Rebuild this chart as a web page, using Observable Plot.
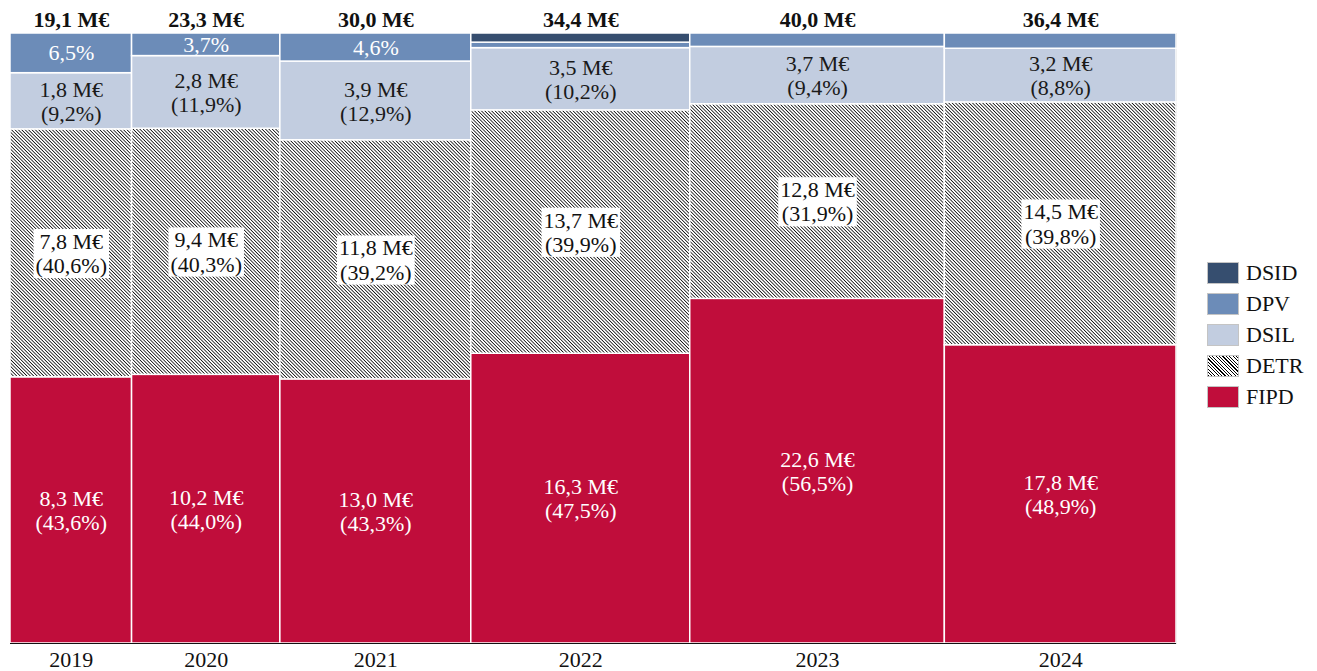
<!DOCTYPE html>
<html><head><meta charset="utf-8">
<script src="https://cdn.jsdelivr.net/npm/d3@7"></script>
<script src="https://cdn.jsdelivr.net/npm/@observablehq/plot@0.6"></script>
<style>
body{margin:0;background:#fff;font-family:"Liberation Serif",serif;}
#wrap{position:relative;width:1317px;height:671px;}
#legend{position:absolute;left:1207px;top:257px;font-size:22px;color:#111;}
.row{display:flex;align-items:center;height:31px;}
.sw{width:30px;height:20px;border:1px solid #c4c4c4;margin-right:7px;box-sizing:content-box;}
</style></head><body><div id="wrap"></div>
<script>
const years = [2019, 2020, 2021, 2022, 2023, 2024];
const totals = [19.1, 23.3, 30.0, 34.4, 40.0, 36.4];
const fipdAmt = [8.3, 10.2, 13.0, 16.3, 22.6, 17.8];
const fipdPct = [43.6, 44.0, 43.3, 47.5, 56.5, 48.9];
const detrAmt = [7.8, 9.4, 11.8, 13.7, 12.8, 14.5];
const detrPct = [40.6, 40.3, 39.2, 39.9, 31.9, 39.8];
const dsilAmt = [1.8, 2.8, 3.9, 3.5, 3.7, 3.2];
const dsilPct = [9.2, 11.9, 12.9, 10.2, 9.4, 8.8];
const dpvPct = [6.5, 3.7, 4.6, 0.9, 2.2, 2.5];
const dsidPct = [0, 0, 0, 1.5, 0, 0];
const dpvLabelShown = [true, true, true, false, false, false];
const seriesNames = ["FIPD", "DETR", "DSIL", "DPV", "DSID"];
const seriesColors = {FIPD: "#c00d3b", DETR: "url(#hatch)", DSIL: "#c2cde0", DPV: "#6c8cb8", DSID: "#364e6f"};
const legendOrder = ["DSID", "DPV", "DSIL", "DETR", "FIPD"];

const fmt = v => v.toFixed(1).replace(".", ",");

const rows = [];
const cols = [];
let cx = 0;
years.forEach((yr, i) => {
  const x1 = cx, x2 = cx + totals[i];
  cx = x2;
  cols.push({year: yr, x1, x2, mid: (x1 + x2) / 2, total: totals[i]});
  const pcts = [fipdPct[i], detrPct[i], dsilPct[i], dpvPct[i], dsidPct[i]];
  const sum = d3.sum(pcts);
  let cy = 0;
  pcts.forEach((p, k) => {
    if (p <= 0) return;
    const y1 = cy, y2 = cy + p / sum * 100;
    cy = y2;
    const name = seriesNames[k];
    let label = null;
    if (name === "FIPD") label = `${fmt(fipdAmt[i])} M€\n(${fmt(fipdPct[i])}%)`;
    if (name === "DETR") label = `${fmt(detrAmt[i])} M€\n(${fmt(detrPct[i])}%)`;
    if (name === "DSIL") label = `${fmt(dsilAmt[i])} M€\n(${fmt(dsilPct[i])}%)`;
    if (name === "DPV" && dpvLabelShown[i]) label = `${fmt(dpvPct[i])}%`;
    rows.push({year: yr, series: name, x1, x2, xm: (x1 + x2) / 2, y1, y2, ym: (y1 + y2) / 2, label, color: seriesColors[name]});
  });
});

const font = '"Palatino Linotype","Book Antiqua",Palatino,"Liberation Serif",serif';
const detrRows = rows.filter(d => d.series === "DETR");
const detrLabelSet = new Set(detrRows.map(d => d.label.replace("\n", "")));

const plot = Plot.plot({
  width: 1317,
  height: 671,
  marginLeft: 10,
  marginRight: 141,
  marginTop: 33,
  marginBottom: 28,
  x: {domain: [0, d3.sum(totals)], axis: null},
  y: {domain: [0, 100], axis: null},
  color: {type: "identity"},
  style: {fontFamily: font, fontSize: "22px", background: "white", overflow: "visible"},
  marks: [
    Plot.frame({stroke: "#c0c0c0"}),
    Plot.rect(rows, {x1: "x1", x2: "x2", y1: "y1", y2: "y2", fill: "color", stroke: "white", strokeWidth: 1.5}),
    Plot.ruleY([0], {stroke: "#111", strokeWidth: 1.2}),
    Plot.text(rows.filter(d => d.series === "FIPD"), {x: "xm", y: "ym", text: "label", fill: "white", lineHeight: 1.1}),
    Plot.text(detrRows, {x: "xm", y: "ym", text: "label", fill: "#111", lineHeight: 1.1}),
    Plot.text(rows.filter(d => d.series === "DSIL"), {x: "xm", y: "ym", text: "label", fill: "#1a1a1a", lineHeight: 1.1}),
    Plot.text(rows.filter(d => d.series === "DPV" && d.label), {x: "xm", y: "ym", text: "label", fill: "white"}),
    Plot.text(cols, {x: "mid", y: 100, dy: -14, text: d => `${fmt(d.total)} M€`, fontWeight: "bold", fill: "#111"}),
    Plot.text(cols, {x: "mid", y: 0, dy: 16, text: d => String(d.year), fill: "#111"})
  ]
});

d3.select(plot).insert("defs", ":first-child").html(
  '<pattern id="hatch" patternUnits="userSpaceOnUse" width="2.4" height="2.4" patternTransform="rotate(-45)">' +
  '<rect width="2.4" height="2.4" fill="white"/><rect width="0.75" height="2.4" fill="black"/></pattern>');

const wrap = document.getElementById("wrap");
wrap.appendChild(plot);

// white boxes behind DETR labels
Array.from(plot.querySelectorAll("text")).filter(t => detrLabelSet.has(t.textContent.trim())).forEach(t => {
  const b = t.getBBox();
  const r = document.createElementNS("http://www.w3.org/2000/svg", "rect");
  r.setAttribute("x", b.x - 2);
  r.setAttribute("y", b.y);
  r.setAttribute("width", b.width + 4);
  r.setAttribute("height", b.height);
  r.setAttribute("fill", "white");
  const tr = t.getAttribute("transform");
  if (tr) r.setAttribute("transform", tr);
  ["x", "y"].forEach(a => { if (t.hasAttribute(a) && !tr) {} });
  t.parentNode.insertBefore(r, t);
});

const legend = document.createElement("div");
legend.id = "legend";
legend.style.fontFamily = font;
legendOrder.forEach(name => {
  const row = document.createElement("div");
  row.className = "row";
  const sw = document.createElement("div");
  sw.className = "sw";
  if (name === "DETR") sw.style.background = "repeating-linear-gradient(45deg, #000 0 0.8px, #fff 0.8px 2.4px)";
  else sw.style.background = seriesColors[name];
  const lab = document.createElement("span");
  lab.textContent = name;
  row.appendChild(sw);
  row.appendChild(lab);
  legend.appendChild(row);
});
wrap.appendChild(legend);
</script>
</body></html>
